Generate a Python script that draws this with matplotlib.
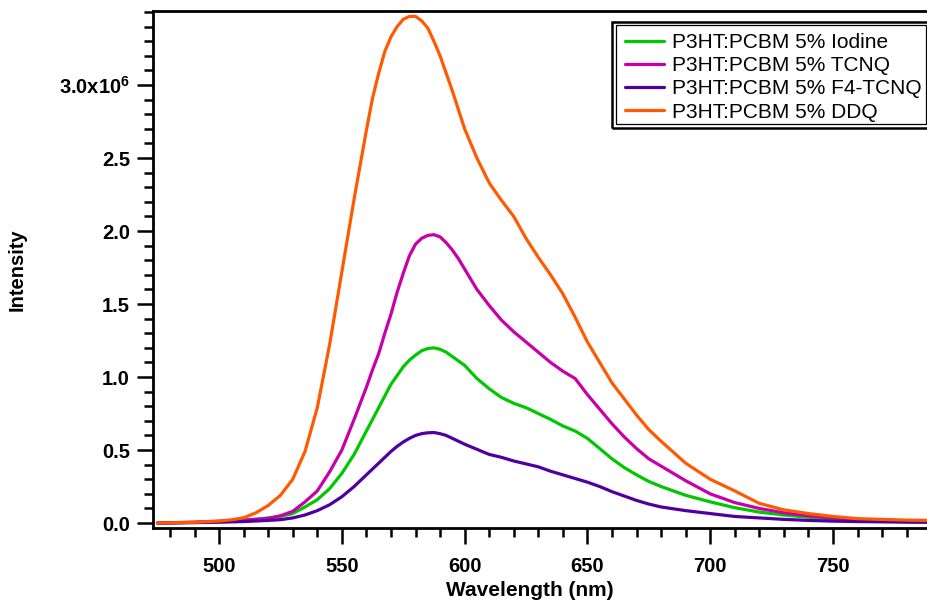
import matplotlib
matplotlib.use("Agg")
import matplotlib.pyplot as plt
from matplotlib.ticker import MultipleLocator, FixedLocator, FuncFormatter
from matplotlib.patches import Rectangle

# ---- data (intensity in units of 1e6) ----
wavelength = [475, 480, 490, 500, 505, 510, 515, 520, 525, 530, 535, 540, 545, 550,
              555, 560, 562.5, 565, 567.5, 570, 572.5, 575, 577.5, 580, 582.5, 585,
              587.5, 590, 592.5, 595, 597.5, 600, 605, 610, 615, 620,
              625, 630, 635, 640, 645, 650, 655, 660, 665, 670, 675, 680, 690, 700,
              710, 720, 730, 740, 750, 760, 770, 780, 790]

iodine = [0.0, 0.001, 0.004, 0.008, 0.012, 0.018, 0.025, 0.035, 0.045, 0.065, 0.11, 0.16,
          0.235, 0.34, 0.47, 0.63, 0.71, 0.79, 0.87, 0.95, 1.01, 1.07, 1.115, 1.15, 1.18,
          1.195, 1.20, 1.19, 1.17, 1.14, 1.11, 1.08, 0.99,
          0.92, 0.86, 0.82, 0.79, 0.75, 0.71, 0.665, 0.63, 0.58, 0.51, 0.44, 0.38, 0.33,
          0.285, 0.25, 0.19, 0.145, 0.105, 0.075, 0.055, 0.04, 0.028, 0.02, 0.015, 0.01, 0.008]

tcnq = [0.0, 0.002, 0.006, 0.012, 0.016, 0.02, 0.026, 0.032, 0.05, 0.08, 0.145, 0.22,
        0.35, 0.50, 0.71, 0.93, 1.05, 1.16, 1.30, 1.43, 1.58, 1.71, 1.83, 1.91, 1.95,
        1.97, 1.975, 1.96, 1.92, 1.87, 1.81, 1.74, 1.60,
        1.49, 1.39, 1.31, 1.24, 1.17, 1.10, 1.04, 0.99, 0.88, 0.78, 0.68, 0.59, 0.51,
        0.44, 0.39, 0.29, 0.20, 0.14, 0.10, 0.07, 0.05, 0.035, 0.025, 0.02, 0.015, 0.012]

f4tcnq = [0.0, 0.001, 0.003, 0.006, 0.008, 0.01, 0.014, 0.018, 0.023, 0.035, 0.055, 0.085,
          0.125, 0.18, 0.25, 0.33, 0.37, 0.41, 0.45, 0.49, 0.525, 0.555, 0.58, 0.60, 0.612,
          0.618, 0.62, 0.612, 0.60, 0.58, 0.56, 0.54, 0.505,
          0.47, 0.45, 0.425, 0.405, 0.385, 0.355, 0.33, 0.305, 0.28, 0.25, 0.215, 0.185,
          0.155, 0.13, 0.11, 0.085, 0.065, 0.045, 0.035, 0.025, 0.018, 0.013, 0.01, 0.008,
          0.006, 0.005]

ddq = [0.0, 0.002, 0.005, 0.014, 0.022, 0.036, 0.07, 0.12, 0.19, 0.30, 0.49, 0.79, 1.22,
       1.72, 2.22, 2.69, 2.91, 3.08, 3.23, 3.33, 3.40, 3.45, 3.47, 3.47, 3.44, 3.39,
       3.30, 3.20, 3.08, 2.96, 2.83, 2.70, 2.50, 2.33, 2.21,
       2.10, 1.95, 1.82, 1.70, 1.57, 1.41, 1.24, 1.10, 0.96, 0.85, 0.74, 0.64, 0.56, 0.41,
       0.30, 0.22, 0.135, 0.09, 0.065, 0.045, 0.03, 0.025, 0.02, 0.018]

series = [
    ("P3HT:PCBM 5% Iodine", iodine, "#00c800"),
    ("P3HT:PCBM 5% TCNQ", tcnq, "#c800aa"),
    ("P3HT:PCBM 5% F4-TCNQ", f4tcnq, "#5000a0"),
    ("P3HT:PCBM 5% DDQ", ddq, "#ff5a00"),
]

y_major = [0.0, 0.5, 1.0, 1.5, 2.0, 2.5, 3.0]

plt.rcParams['font.family'] = ['Liberation Sans', 'DejaVu Sans']
plt.rcParams['mathtext.fontset'] = 'custom'
plt.rcParams['mathtext.rm'] = 'Liberation Sans:bold'
plt.rcParams['mathtext.default'] = 'rm'

W, H = 928, 603
fig = plt.figure(figsize=(W / 100, H / 100), dpi=100)
ax = fig.add_axes([153 / W, (H - 528) / H, (W - 153) / W, (528 - 11) / H])

for label, vals, col in series:
    ax.plot(wavelength, [v * 1e6 for v in vals], color=col, lw=2.3, label=label,
            solid_joinstyle='round', solid_capstyle='round')

ax.set_xlim(473.1, 788.7)
ax.set_ylim(-0.034e6, 3.507e6)

for s in ['left', 'bottom', 'top']:
    ax.spines[s].set_linewidth(2.0)
ax.spines['right'].set_visible(False)

ax.xaxis.set_major_locator(MultipleLocator(50))
ax.xaxis.set_minor_locator(MultipleLocator(10))
ax.yaxis.set_major_locator(FixedLocator([v * 1e6 for v in y_major]))
ax.yaxis.set_minor_locator(MultipleLocator(0.1e6))
ax.tick_params(which='major', direction='out', length=11.5, width=1.8, labelsize=14.5, pad=5)
ax.tick_params(which='minor', direction='out', length=6.5, width=1.8)
ax.tick_params(axis='x', which='major', pad=9.5)
ax.tick_params(top=False, right=False)


def yfmt(v, pos):
    if abs(v - 3.0e6) < 1:
        return r'3.0x10$^{6}$'
    return f'{v / 1e6:.1f}'


ax.yaxis.set_major_formatter(FuncFormatter(yfmt))
for t in ax.get_xticklabels() + ax.get_yticklabels():
    t.set_fontweight('bold')

ax.set_xlabel('Wavelength (nm)', fontsize=15, fontweight='bold')
ax.set_ylabel('Intensity', fontsize=14.5, fontweight='bold')
ax.xaxis.set_label_coords(0.486, -0.102)
ax.yaxis.set_label_coords(-0.163, 0.5)

leg = ax.legend(loc='upper left', bbox_to_anchor=(625 / W, 1 - 33 / H),
                bbox_transform=fig.transFigure, frameon=False, fontsize=15,
                handlelength=1.85, handletextpad=0.42, labelspacing=0.2,
                borderpad=0, borderaxespad=0)
for line in leg.get_lines():
    line.set_linewidth(2.3)

# double-line legend frame (figure pixel coords)
x0, y0, x1, y1 = 609, 18, 934, 131
for inset, lw in [(0, 1.1), (3.5, 1.8), (7.5, 0.9)]:
    r = Rectangle(((x0 + inset) / W, 1 - (y1 - inset) / H),
                  (x1 - x0 - 2 * inset) / W, (y1 - y0 - 2 * inset) / H,
                  transform=fig.transFigure, fill=(inset == 0), facecolor='white',
                  edgecolor='black', lw=lw, zorder=3 if inset else 2.5)
    fig.patches.append(r)
leg.set_zorder(5)
fig.patches[0].set_zorder(-1)

fig.savefig('out.png', dpi=100)
